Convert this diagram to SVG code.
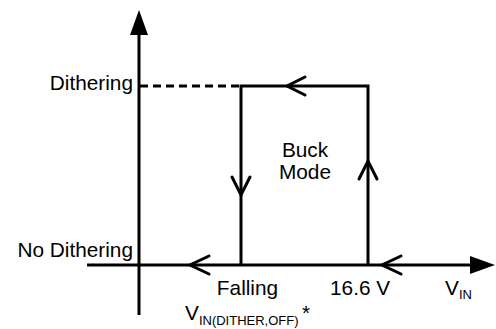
<svg xmlns="http://www.w3.org/2000/svg" width="496" height="329" viewBox="0 0 496 329">
<style>
.ln{stroke:#000;stroke-width:3;fill:none}
.ch{stroke:#000;stroke-width:3;fill:none;stroke-linecap:round;stroke-linejoin:miter}
.t{font-family:"Liberation Sans",Arial,sans-serif;font-size:20.8px;fill:#000}
.s{font-size:13px}
</style>
<rect width="496" height="329" fill="#fff"/>
<g id="axes">
<line class="ln" x1="139" y1="33" x2="139" y2="315"/>
<polygon points="139,10 130,35 148,35" fill="#000"/>
<line class="ln" x1="87" y1="265" x2="472" y2="265"/>
<polygon points="495,265 470,256 470,274" fill="#000"/>
</g>
<g id="connectors">
<line class="ln" x1="140" y1="86" x2="241" y2="86" stroke-dasharray="8,5"/>
<polyline class="ln" points="241,265 241,86 368,86 368,265"/>
<polyline class="ch" points="305,77 287,86 305,95"/>
<polyline class="ch" points="232,177 241,195 250,177"/>
<polyline class="ch" points="359,179 368,161 377,179"/>
<polyline class="ch" points="209,256 190,265 209,274"/>
<polyline class="ch" points="401,256 382,265 401,274"/>
</g>
<g id="labels">
<text class="t" x="133" y="90" text-anchor="end">Dithering</text>
<text class="t" x="133" y="257" text-anchor="end">No Dithering</text>
<text class="t" x="305" y="157" text-anchor="middle">Buck</text>
<text class="t" x="305" y="179" text-anchor="middle">Mode</text>
<text class="t" x="247.5" y="295" text-anchor="middle">Falling</text>
<text class="t" x="185" y="320">V<tspan class="s" dy="5">IN(DITHER,OFF)</tspan></text>
<text class="t" x="302" y="320">*</text>
<text class="t" x="330" y="295">16.6 V</text>
<text class="t" x="445" y="295">V<tspan class="s" dy="4">IN</tspan></text>
</g>
</svg>
